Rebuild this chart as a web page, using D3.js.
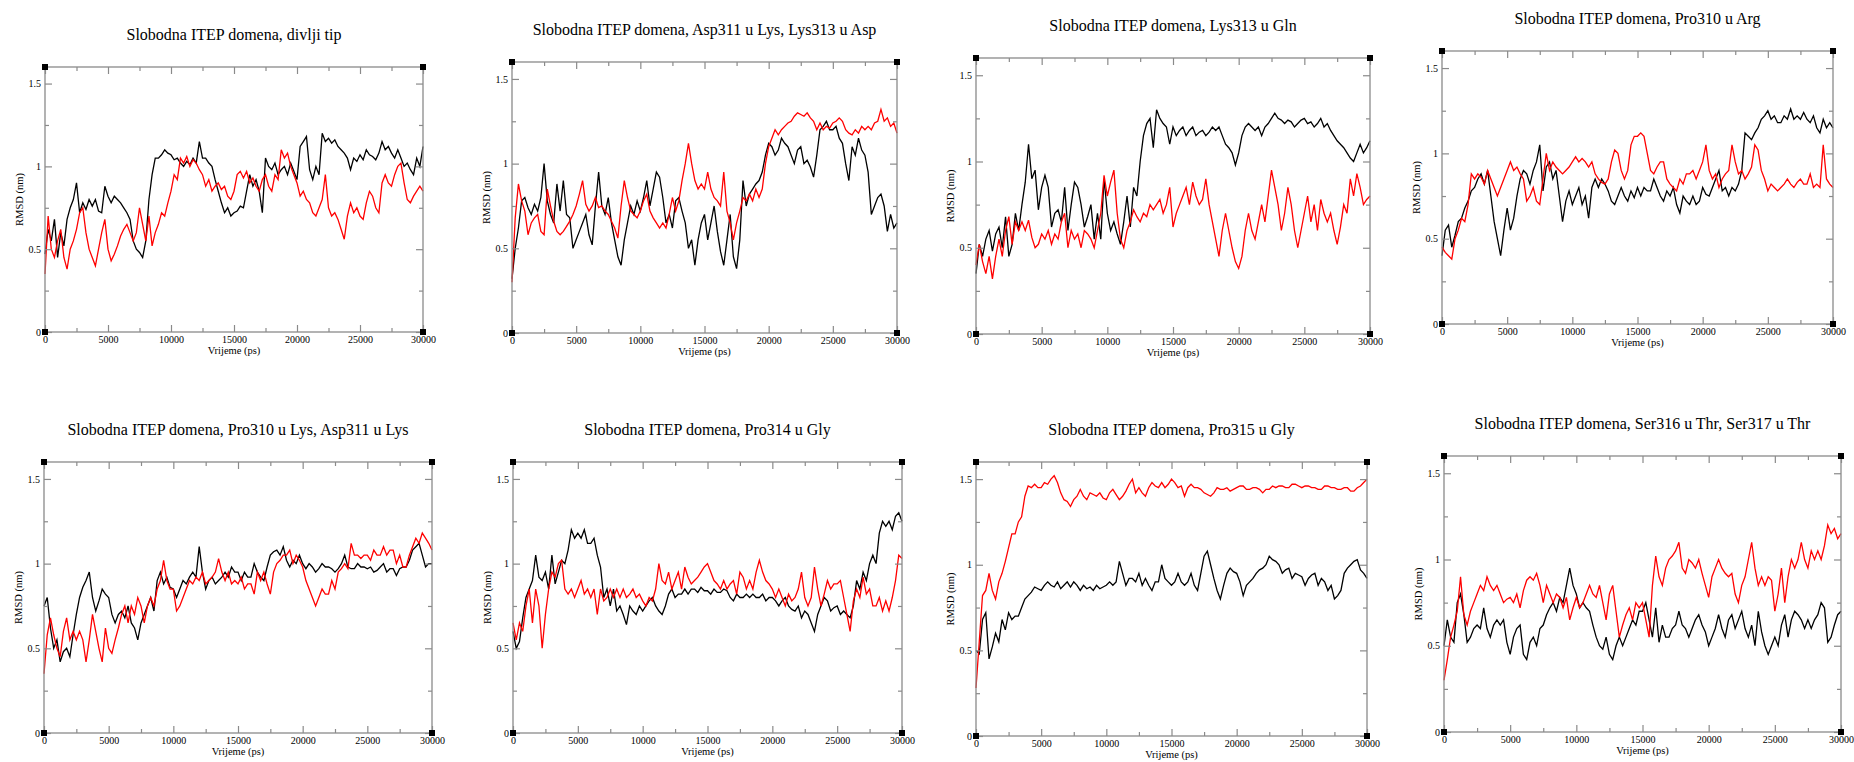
<!DOCTYPE html>
<html><head><meta charset="utf-8">
<script src="https://cdn.jsdelivr.net/npm/d3@7"></script>
<style>html,body{margin:0;padding:0;background:#fff;} svg{display:block;}</style>
</head><body>
<svg id="chart" width="1854" height="762"></svg>
<script>
// ---------- data ----------
const titles = [
  "Slobodna ITEP domena, divlji tip",
  "Slobodna ITEP domena, Asp311 u Lys, Lys313 u Asp",
  "Slobodna ITEP domena, Lys313 u Gln",
  "Slobodna ITEP domena, Pro310 u Arg",
  "Slobodna ITEP domena, Pro310 u Lys, Asp311 u Lys",
  "Slobodna ITEP domena, Pro314 u Gly",
  "Slobodna ITEP domena, Pro315 u Gly",
  "Slobodna ITEP domena, Ser316 u Thr, Ser317 u Thr"
];
const xLabel = "Vrijeme (ps)";
const yLabel = "RMSD (nm)";
const xMajorTicks = [0, 5000, 10000, 15000, 20000, 25000, 30000];
const xMinorTicks = [2500, 7500, 12500, 17500, 22500, 27500];
const yMajorTicks = [0, 0.5, 1, 1.5];
const yTickLabels = ["0", "0.5", "1", "1.5"];
const yMinorTicks = [0.25, 0.75, 1.25];
const xDomain = [0, 30000];
const yDomain = [0, 1.6];
const timeStep = 250; // ps between samples

const s1Black = [0.47,0.62,0.55,0.68,0.45,0.6,0.52,0.68,0.75,0.8,0.9,0.72,0.78,0.74,0.8,0.76,0.8,0.73,0.72,0.88,
 0.82,0.78,0.82,0.8,0.78,0.75,0.72,0.68,0.55,0.5,0.48,0.45,0.55,0.8,0.95,1.05,1.05,1.07,1.1,1.08,
 1.07,1.04,1.05,1.02,1.0,1.03,1.01,1.05,1.02,1.15,1.05,1.05,1.02,1.0,0.92,0.85,0.78,0.72,0.75,0.7,
 0.72,0.73,0.76,0.75,0.85,0.95,0.88,0.92,0.85,0.72,1.05,1.0,0.98,1.02,0.95,0.98,1.0,0.95,1.02,0.97,
 0.92,1.12,1.15,1.18,0.98,0.92,1.0,0.95,1.2,1.15,1.17,1.14,1.16,1.12,1.1,1.08,1.05,0.98,1.05,1.03,
 1.07,1.04,1.1,1.07,1.06,1.04,1.08,1.15,1.1,1.12,1.08,1.05,1.1,1.05,1.0,1.02,0.98,0.95,1.05,1.0,1.12];
const s1Red = [0.35,0.7,0.5,0.45,0.55,0.62,0.45,0.38,0.5,0.55,0.62,0.72,0.75,0.6,0.5,0.45,0.4,0.5,0.6,0.68,
 0.5,0.43,0.47,0.52,0.58,0.62,0.65,0.6,0.55,0.6,0.75,0.65,0.55,0.7,0.52,0.6,0.65,0.72,0.7,0.78,
 0.85,0.95,0.92,1.05,1.02,1.06,1.0,1.04,1.02,0.98,0.95,0.88,0.92,0.85,0.88,0.9,0.86,0.88,0.82,0.8,
 0.85,0.95,0.97,0.93,0.97,0.9,0.93,0.88,0.85,0.92,0.95,0.88,0.85,0.95,0.92,1.1,1.05,1.08,1.0,0.95,
 0.9,0.82,0.85,0.8,0.78,0.72,0.7,0.75,0.8,0.95,0.75,0.7,0.72,0.68,0.62,0.56,0.7,0.78,0.72,0.75,
 0.7,0.68,0.78,0.85,0.82,0.75,0.72,0.9,0.95,0.9,0.88,0.95,1.0,1.02,0.9,0.8,0.78,0.82,0.85,0.88,0.85];

const s2Black = [0.32,0.5,0.62,0.78,0.8,0.74,0.7,0.76,0.72,0.8,1.0,0.78,0.7,0.65,0.88,0.72,0.9,0.7,0.68,0.5,
 0.55,0.6,0.65,0.7,0.58,0.52,0.75,0.95,0.75,0.7,0.8,0.65,0.55,0.45,0.4,0.55,0.65,0.75,0.7,0.78,
 0.72,0.8,0.9,0.75,0.85,0.95,0.92,0.8,0.65,0.7,0.62,0.78,0.8,0.72,0.65,0.5,0.55,0.4,0.55,0.65,
 0.7,0.55,0.65,0.75,0.6,0.48,0.4,0.55,0.7,0.45,0.38,0.55,0.9,0.75,0.82,0.85,0.88,0.9,0.95,1.05,
 1.12,1.1,1.05,1.08,1.15,1.12,1.1,1.05,1.0,1.08,1.1,1.0,1.02,0.98,0.92,1.05,1.2,1.22,1.25,1.2,
 1.2,1.22,1.15,1.12,1.0,0.9,1.1,1.05,1.15,1.08,1.05,0.95,0.7,0.75,0.8,0.82,0.75,0.6,0.7,0.62,0.65];
const s2Red = [0.3,0.68,0.88,0.78,0.72,0.58,0.65,0.68,0.7,0.6,0.58,0.85,0.75,0.66,0.6,0.58,0.6,0.63,0.66,0.7,
 0.75,0.82,0.9,0.76,0.72,0.75,0.8,0.74,0.75,0.72,0.7,0.66,0.62,0.56,0.75,0.9,0.8,0.72,0.7,0.68,
 0.72,0.78,0.82,0.72,0.68,0.65,0.62,0.65,0.62,0.7,0.8,0.72,0.78,0.9,1.0,1.12,1.0,0.9,0.85,0.88,
 0.85,0.95,0.85,0.8,0.78,0.75,0.95,0.72,0.65,0.55,0.65,0.72,0.8,0.78,0.82,0.78,0.85,0.8,0.85,1.0,
 1.1,1.15,1.2,1.17,1.2,1.22,1.24,1.25,1.28,1.3,1.29,1.28,1.3,1.27,1.25,1.2,1.24,1.2,1.22,1.21,
 1.24,1.25,1.27,1.25,1.2,1.18,1.17,1.2,1.18,1.22,1.2,1.22,1.2,1.24,1.25,1.32,1.25,1.27,1.22,1.24,1.18];

const s3Black = [0.35,0.52,0.45,0.55,0.6,0.48,0.58,0.62,0.5,0.68,0.45,0.52,0.7,0.6,0.75,0.88,1.1,0.9,0.95,0.72,
 0.85,0.92,0.85,0.62,0.7,0.72,0.65,0.85,0.6,0.75,0.88,0.85,0.75,0.62,0.68,0.75,0.55,0.7,0.55,0.9,
 0.7,0.6,0.65,0.58,0.52,0.65,0.8,0.62,0.85,0.8,1.0,1.15,1.22,1.25,1.08,1.3,1.25,1.22,1.2,1.1,
 1.2,1.15,1.18,1.2,1.15,1.18,1.2,1.15,1.17,1.18,1.15,1.17,1.2,1.18,1.2,1.15,1.1,1.08,1.05,0.98,
 1.05,1.15,1.2,1.22,1.2,1.18,1.2,1.15,1.2,1.22,1.25,1.28,1.25,1.24,1.22,1.24,1.23,1.2,1.22,1.24,
 1.25,1.22,1.23,1.2,1.22,1.25,1.2,1.22,1.18,1.15,1.12,1.1,1.08,1.05,1.02,1.0,1.05,1.1,1.05,1.08,1.12];
const s3Red = [0.4,0.52,0.42,0.35,0.45,0.32,0.45,0.55,0.45,0.6,0.68,0.52,0.65,0.6,0.65,0.6,0.66,0.56,0.5,0.52,
 0.58,0.55,0.6,0.52,0.58,0.55,0.65,0.7,0.5,0.6,0.55,0.58,0.5,0.6,0.58,0.55,0.5,0.6,0.7,0.92,
 0.8,0.88,0.95,0.7,0.55,0.5,0.6,0.65,0.72,0.68,0.65,0.7,0.68,0.75,0.72,0.75,0.78,0.7,0.75,0.85,
 0.62,0.7,0.75,0.8,0.85,0.75,0.88,0.8,0.75,0.78,0.9,0.75,0.65,0.55,0.45,0.6,0.7,0.6,0.5,0.42,
 0.38,0.45,0.6,0.7,0.6,0.55,0.65,0.75,0.65,0.8,0.95,0.85,0.75,0.6,0.7,0.85,0.75,0.6,0.5,0.6,
 0.7,0.8,0.65,0.75,0.6,0.78,0.7,0.65,0.7,0.6,0.52,0.62,0.75,0.7,0.9,0.8,0.93,0.85,0.75,0.78,0.8];

const s4Black = [0.4,0.55,0.58,0.45,0.52,0.6,0.62,0.68,0.72,0.78,0.8,0.85,0.88,0.82,0.9,0.75,0.6,0.5,0.4,0.55,
 0.68,0.55,0.62,0.75,0.85,0.9,0.88,0.82,0.9,0.95,1.05,0.78,0.92,0.95,0.85,0.9,0.75,0.6,0.72,0.78,
 0.7,0.75,0.8,0.7,0.75,0.62,0.8,0.85,0.8,0.85,0.82,0.78,0.72,0.7,0.75,0.8,0.75,0.72,0.78,0.74,
 0.8,0.75,0.8,0.78,0.78,0.85,0.8,0.75,0.72,0.78,0.75,0.8,0.7,0.65,0.75,0.72,0.7,0.75,0.7,0.72,
 0.8,0.76,0.75,0.8,0.85,0.9,0.78,0.8,0.75,0.8,0.78,0.82,0.9,1.12,1.1,1.08,1.12,1.15,1.2,1.22,
 1.25,1.2,1.22,1.18,1.18,1.22,1.2,1.26,1.2,1.22,1.2,1.24,1.2,1.18,1.22,1.15,1.12,1.2,1.15,1.18,1.15];
const s4Red = [0.45,0.42,0.4,0.38,0.5,0.55,0.62,0.6,0.7,0.88,0.85,0.88,0.86,0.82,0.9,0.85,0.8,0.75,0.8,0.85,
 0.9,0.95,0.9,0.92,0.88,0.85,0.72,0.75,0.8,0.72,0.7,0.85,1.0,0.9,0.95,0.92,0.9,0.88,0.9,0.92,
 0.95,0.98,0.95,0.97,0.95,0.92,0.95,0.88,0.85,0.83,0.82,0.85,0.95,1.02,1.0,0.9,0.85,0.9,1.05,1.1,
 1.1,1.12,1.1,1.0,0.9,0.88,0.92,0.95,0.95,0.85,0.82,0.8,0.78,0.85,0.82,0.88,0.88,0.9,0.85,0.9,
 0.95,1.05,0.9,0.85,0.88,0.8,0.85,0.88,0.9,1.05,0.95,0.88,0.9,0.85,0.88,0.92,1.05,1.02,0.9,0.85,
 0.78,0.82,0.8,0.78,0.8,0.82,0.85,0.82,0.8,0.83,0.85,0.82,0.82,0.88,0.8,0.82,0.8,1.05,0.85,0.82,0.8];

const s5Black = [0.75,0.8,0.62,0.5,0.55,0.42,0.48,0.5,0.45,0.58,0.7,0.8,0.86,0.9,0.95,0.8,0.72,0.78,0.85,0.82,
 0.8,0.7,0.65,0.7,0.72,0.68,0.75,0.65,0.62,0.55,0.65,0.7,0.75,0.8,0.72,0.9,0.95,0.88,0.92,0.86,
 0.85,0.8,0.85,0.9,0.88,0.92,0.95,0.92,1.1,0.95,0.85,0.9,0.92,0.88,0.9,0.92,0.95,0.92,0.98,0.95,
 0.95,0.9,0.95,0.92,0.92,1.0,0.95,0.92,0.9,0.98,1.05,1.07,1.08,1.05,1.1,1.02,0.98,1.02,1.0,1.05,
 1.0,0.97,1.0,0.98,0.95,0.97,1.0,0.98,0.98,0.97,0.95,0.97,1.0,1.05,0.98,0.97,0.97,1.0,0.98,0.98,
 0.97,0.98,0.95,0.96,0.98,1.0,0.95,0.97,0.97,0.93,0.97,0.98,0.98,1.02,1.08,1.1,1.12,1.05,0.98,1.0,1.0];
const s5Red = [0.35,0.58,0.68,0.58,0.5,0.45,0.6,0.68,0.55,0.6,0.55,0.6,0.55,0.42,0.55,0.7,0.6,0.5,0.42,0.62,
 0.5,0.47,0.55,0.62,0.7,0.75,0.65,0.75,0.7,0.8,0.75,0.65,0.75,0.8,0.75,0.85,0.9,1.02,0.9,0.85,
 0.85,0.72,0.75,0.8,0.85,0.9,0.88,0.92,0.9,0.95,0.88,0.9,0.92,0.95,1.03,0.95,0.9,0.95,0.88,0.9,
 0.88,0.92,0.85,0.88,0.88,0.82,0.95,0.9,0.95,0.88,0.82,0.95,1.0,1.02,1.05,1.05,1.08,1.0,1.05,1.02,
 0.98,0.9,0.85,0.8,0.75,0.8,0.85,0.82,0.82,0.9,0.85,0.95,0.97,1.0,0.97,1.12,1.05,1.05,1.03,1.05,
 1.05,1.02,1.08,1.05,1.05,1.1,1.05,1.08,1.08,1.0,1.05,0.98,0.98,1.05,1.1,1.15,1.12,1.18,1.15,1.12,1.08];

const s6Black = [0.6,0.5,0.54,0.68,0.8,0.85,0.9,1.05,0.92,0.9,0.95,0.85,1.05,0.88,0.95,1.02,1.0,1.08,1.2,1.15,
 1.18,1.15,1.2,1.12,1.12,1.15,1.05,0.98,0.8,0.85,0.75,0.85,0.72,0.75,0.7,0.64,0.75,0.72,0.7,0.75,
 0.72,0.75,0.78,0.8,0.75,0.72,0.7,0.75,0.82,0.85,0.8,0.82,0.82,0.85,0.82,0.85,0.85,0.83,0.86,0.84,
 0.84,0.82,0.85,0.83,0.83,0.85,0.84,0.8,0.78,0.82,0.8,0.8,0.82,0.8,0.82,0.8,0.8,0.82,0.78,0.8,
 0.8,0.78,0.75,0.78,0.8,0.75,0.73,0.72,0.75,0.68,0.72,0.7,0.65,0.6,0.7,0.75,0.8,0.78,0.72,0.74,
 0.75,0.7,0.72,0.7,0.68,0.75,0.9,0.85,0.95,0.9,1.0,1.05,1.0,1.18,1.25,1.22,1.25,1.2,1.28,1.3,1.25];
const s6Red = [0.65,0.55,0.65,0.6,0.75,0.85,0.65,0.85,0.75,0.5,0.7,0.85,0.95,0.92,1.0,1.02,0.85,0.82,0.85,0.8,
 0.85,0.9,0.82,0.85,0.8,0.85,0.7,0.85,0.78,0.8,0.85,0.8,0.85,0.8,0.85,0.8,0.82,0.85,0.8,0.82,
 0.78,0.75,0.8,0.78,0.85,1.0,0.9,0.88,0.95,0.85,0.9,0.95,0.85,0.98,0.92,0.88,0.9,0.92,0.95,0.98,
 1.0,0.95,0.9,0.88,0.85,0.9,0.85,0.88,0.9,0.82,0.95,0.92,0.85,0.9,0.85,0.95,1.02,0.95,0.9,0.88,
 0.85,0.8,0.85,0.8,0.75,0.82,0.78,0.8,0.85,0.95,0.8,0.75,0.8,0.98,0.85,0.75,0.82,0.9,0.85,0.88,
 0.88,0.9,0.8,0.7,0.6,0.78,0.85,0.8,0.92,0.82,0.85,0.75,0.75,0.8,0.72,0.78,0.72,0.8,0.9,1.05,1.03];

const s7Black = [0.5,0.48,0.68,0.72,0.45,0.52,0.6,0.55,0.68,0.62,0.72,0.68,0.7,0.7,0.75,0.8,0.82,0.84,0.87,0.86,
 0.85,0.88,0.9,0.88,0.87,0.9,0.86,0.88,0.9,0.87,0.9,0.88,0.85,0.88,0.86,0.87,0.85,0.88,0.86,0.87,
 0.88,0.9,0.88,0.9,1.02,0.95,0.88,0.92,0.92,0.9,0.95,0.88,0.92,0.88,0.85,0.9,0.9,1.0,0.92,0.9,
 0.88,0.9,0.95,0.9,0.88,0.9,0.95,0.88,0.85,0.95,1.05,1.08,1.0,0.92,0.85,0.8,0.88,0.95,0.98,0.96,
 0.95,0.9,0.82,0.88,0.9,0.92,0.95,0.97,0.98,1.0,1.05,1.03,1.02,1.0,0.95,0.97,0.98,0.92,0.95,0.94,
 0.93,0.88,0.92,0.94,0.95,0.88,0.92,0.9,0.85,0.88,0.8,0.82,0.85,0.95,0.98,1.0,1.02,1.03,0.97,0.95,0.92];
const s7Red = [0.28,0.55,0.82,0.85,0.95,0.85,0.8,0.9,0.95,1.02,1.1,1.18,1.18,1.25,1.28,1.4,1.46,1.45,1.47,1.45,
 1.45,1.48,1.47,1.5,1.52,1.48,1.42,1.38,1.37,1.34,1.38,1.4,1.44,1.4,1.38,1.42,1.41,1.4,1.42,1.39,
 1.38,1.42,1.44,1.41,1.38,1.4,1.43,1.47,1.5,1.42,1.45,1.42,1.4,1.45,1.48,1.46,1.45,1.48,1.45,1.47,
 1.5,1.48,1.45,1.46,1.4,1.45,1.47,1.45,1.45,1.44,1.42,1.41,1.4,1.42,1.45,1.44,1.44,1.45,1.43,1.44,
 1.45,1.46,1.46,1.44,1.44,1.45,1.45,1.44,1.42,1.44,1.44,1.46,1.45,1.46,1.46,1.45,1.45,1.47,1.47,1.46,
 1.45,1.46,1.46,1.45,1.45,1.44,1.44,1.46,1.46,1.45,1.45,1.44,1.44,1.45,1.45,1.43,1.43,1.45,1.46,1.48,1.5];

const s8Black = [0.5,0.65,0.55,0.52,0.75,0.8,0.68,0.52,0.55,0.6,0.62,0.6,0.72,0.6,0.55,0.62,0.65,0.62,0.65,0.52,
 0.45,0.55,0.6,0.62,0.45,0.42,0.52,0.55,0.5,0.6,0.62,0.68,0.72,0.75,0.7,0.78,0.75,0.85,0.95,0.85,
 0.8,0.72,0.75,0.72,0.7,0.62,0.55,0.5,0.48,0.55,0.45,0.42,0.5,0.55,0.5,0.55,0.6,0.65,0.62,0.7,
 0.7,0.75,0.65,0.55,0.72,0.52,0.62,0.55,0.55,0.6,0.62,0.7,0.62,0.6,0.55,0.6,0.65,0.68,0.62,0.58,
 0.5,0.55,0.6,0.68,0.6,0.55,0.65,0.68,0.6,0.65,0.7,0.6,0.55,0.62,0.5,0.7,0.58,0.5,0.45,0.5,
 0.55,0.5,0.62,0.68,0.55,0.65,0.7,0.68,0.65,0.6,0.65,0.6,0.65,0.68,0.75,0.72,0.52,0.55,0.62,0.68,0.7];
const s8Red = [0.3,0.42,0.55,0.62,0.7,0.9,0.68,0.62,0.7,0.75,0.8,0.85,0.82,0.9,0.85,0.82,0.85,0.8,0.75,0.77,
 0.78,0.75,0.8,0.72,0.82,0.88,0.9,0.88,0.92,0.85,0.75,0.85,0.8,0.75,0.8,0.78,0.72,0.78,0.65,0.72,
 0.78,0.72,0.75,0.8,0.85,0.8,0.78,0.85,0.75,0.65,0.8,0.85,0.7,0.55,0.62,0.68,0.72,0.65,0.75,0.72,
 0.75,0.65,0.55,0.85,1.02,0.9,0.85,0.95,1.0,1.02,1.05,1.1,0.95,0.92,1.0,0.98,0.95,1.0,0.92,0.85,
 0.78,0.9,0.95,1.0,0.95,0.92,0.9,0.92,0.8,0.75,0.85,0.9,1.0,1.1,0.95,0.85,0.9,0.85,0.9,0.88,
 0.7,0.8,0.95,0.75,0.9,1.0,0.95,1.0,1.1,1.0,0.95,1.05,1.0,1.05,1.0,1.08,1.2,1.15,1.18,1.12,1.15];

const blackSeries = [s1Black, s2Black, s3Black, s4Black, s5Black, s6Black, s7Black, s8Black];
const redSeries = [s1Red, s2Red, s3Red, s4Red, s5Red, s6Red, s7Red, s8Red];

// ---------- layout (plot frames in page pixels) ----------
const frames = [
  {l: 45,   r: 423,  t: 67,  b: 332},
  {l: 512,  r: 897,  t: 62,  b: 333},
  {l: 976,  r: 1370, t: 58,  b: 334},
  {l: 1442, r: 1833, t: 51,  b: 324},
  {l: 44,   r: 432,  t: 462, b: 733},
  {l: 513,  r: 902,  t: 462, b: 733},
  {l: 976,  r: 1367, t: 462, b: 736},
  {l: 1444, r: 1841, t: 456, b: 732}
];

const svg = d3.select("#chart");
const serif = "'Liberation Serif','Times New Roman',serif";
const frameColor = "#8a8a8a";

frames.forEach((f, i) => {
  const g = svg.append("g");
  const x = d3.scaleLinear().domain(xDomain).range([f.l, f.r]);
  const y = d3.scaleLinear().domain(yDomain).range([f.b, f.t]);
  const w = f.r - f.l, h = f.b - f.t;

  // title
  g.append("text").attr("x", (f.l + f.r) / 2).attr("y", f.t - 27)
    .attr("text-anchor", "middle").attr("font-family", serif).attr("font-size", 16)
    .attr("fill", "#000").text(titles[i]);

  // data lines
  const line = d3.line().x((d, k) => x(k * timeStep)).y(d => y(d));
  g.append("path").datum(blackSeries[i]).attr("d", line)
    .attr("fill", "none").attr("stroke", "#000").attr("stroke-width", 1.3).attr("stroke-linejoin", "miter");
  g.append("path").datum(redSeries[i]).attr("d", line)
    .attr("fill", "none").attr("stroke", "#ff0000").attr("stroke-width", 1.3).attr("stroke-linejoin", "miter");

  // axes: bottom/left labelled, top/right mirrored, ticks inward
  const axB = d3.axisBottom(x).tickValues(xMajorTicks).tickSize(-7).tickPadding(4).tickFormat(d3.format("d"));
  const axBm = d3.axisBottom(x).tickValues(xMinorTicks).tickSize(-4).tickFormat("");
  const axT = d3.axisTop(x).tickValues(xMajorTicks).tickSize(-7).tickFormat("");
  const axTm = d3.axisTop(x).tickValues(xMinorTicks).tickSize(-4).tickFormat("");
  const axL = d3.axisLeft(y).tickValues(yMajorTicks).tickSize(-7).tickPadding(4)
    .tickFormat((d, k) => yTickLabels[k]);
  const axLm = d3.axisLeft(y).tickValues(yMinorTicks).tickSize(-4).tickFormat("");
  const axR = d3.axisRight(y).tickValues(yMajorTicks).tickSize(-7).tickFormat("");
  const axRm = d3.axisRight(y).tickValues(yMinorTicks).tickSize(-4).tickFormat("");

  const add = (ax, tx, ty) => {
    const a = g.append("g").attr("transform", `translate(${tx},${ty})`).call(ax);
    a.select(".domain").remove();
    a.selectAll(".tick line").attr("stroke", frameColor).attr("stroke-width", 1.2);
    a.selectAll(".tick text").attr("font-family", serif).attr("font-size", 10).attr("fill", "#000");
    return a;
  };
  add(axB, 0, f.b); add(axBm, 0, f.b); add(axT, 0, f.t); add(axTm, 0, f.t);
  add(axL, f.l, 0); add(axLm, f.l, 0); add(axR, f.r, 0); add(axRm, f.r, 0);

  // frame
  g.append("rect").attr("x", f.l).attr("y", f.t).attr("width", w).attr("height", h)
    .attr("fill", "none").attr("stroke", frameColor).attr("stroke-width", 1.3);

  // corner markers
  const corners = [[xDomain[0], yDomain[0]], [xDomain[1], yDomain[0]], [xDomain[0], yDomain[1]], [xDomain[1], yDomain[1]]];
  g.selectAll("rect.corner").data(corners).enter().append("rect").attr("class", "corner")
    .attr("x", d => x(d[0]) - 3).attr("y", d => y(d[1]) - 3).attr("width", 6).attr("height", 6)
    .attr("fill", "#000");

  // axis titles
  g.append("text").attr("x", (f.l + f.r) / 2).attr("y", f.b + 22)
    .attr("text-anchor", "middle").attr("font-family", serif).attr("font-size", 10.5)
    .attr("fill", "#000").text(xLabel);
  g.append("text").attr("transform", `translate(${f.l - 22.5},${(f.t + f.b) / 2}) rotate(-90)`)
    .attr("text-anchor", "middle").attr("font-family", serif).attr("font-size", 10.5)
    .attr("fill", "#000").text(yLabel);
});
</script>
</body></html>
